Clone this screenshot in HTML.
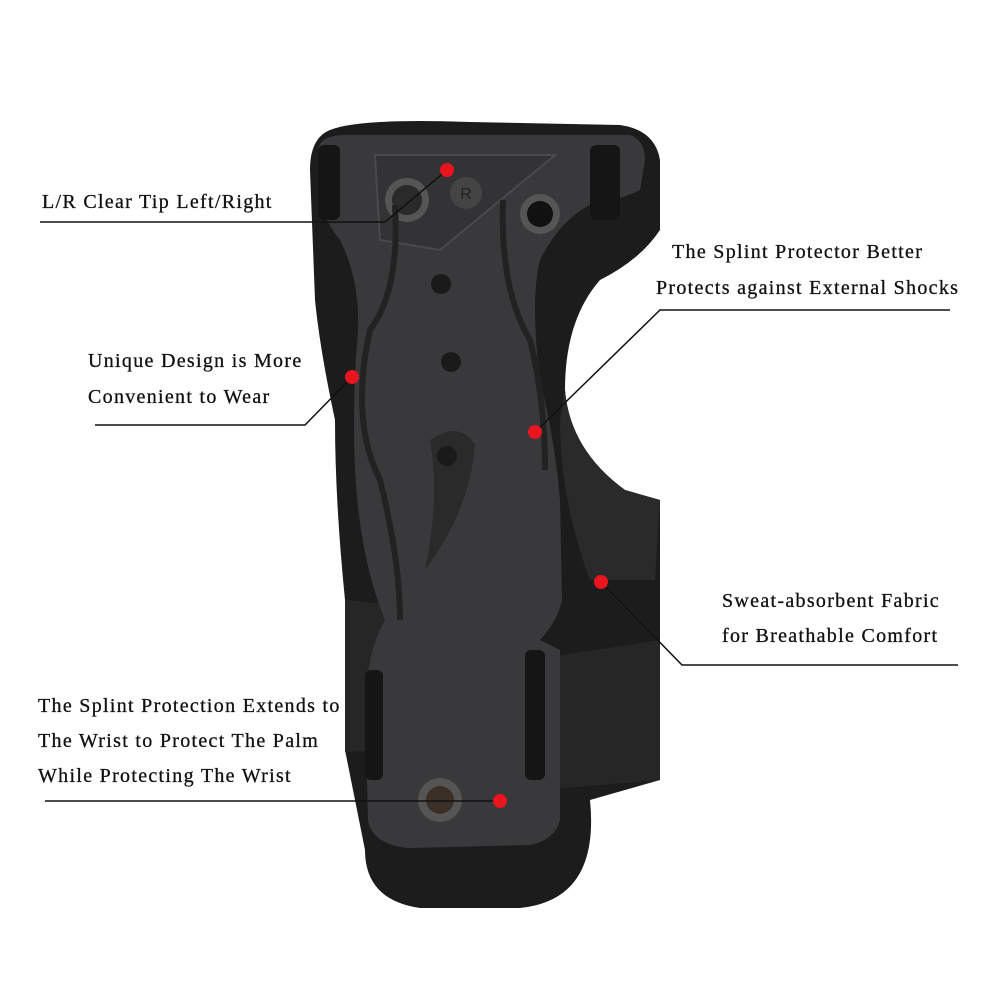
<!DOCTYPE html>
<html><head><style>
body{margin:0;background:#fff;width:1000px;height:1000px;overflow:hidden;position:relative;font-family:"Liberation Serif",serif;}
.t{position:absolute;font-size:20px;color:#111;letter-spacing:1.3px;white-space:nowrap;-webkit-text-stroke:0.3px #111;}
svg{position:absolute;left:0;top:0}
</style></head><body>
<svg width="1000" height="1000" viewBox="0 0 1000 1000">
<path d="M330 130 Q360 118 470 122 L620 125 Q655 130 660 160 L660 230 Q640 260 600 280 Q565 320 565 390 Q570 450 625 490 L660 500 L660 560 L660 780 L590 800 Q600 900 520 908 L420 908 Q365 900 365 850 L345 750 L345 600 Q335 500 335 420 Q320 350 315 300 L310 170 Q310 138 330 130Z" fill="#1c1c1d"/>
<path d="M565 390 Q570 450 625 490 L660 500 L655 580 L590 580 Q560 500 560 420Z" fill="#2a2a2b"/>
<path d="M530 660 L660 640 L660 780 L540 790Z" fill="#262627"/>
<path d="M345 600 L395 605 L395 750 L345 752Z" fill="#262627"/>
<path d="M318 150 Q320 135 345 135 L630 135 Q645 140 645 160 L640 190 Q620 200 590 205 Q560 220 540 260 Q530 300 540 380 Q555 440 560 500 L562 600 Q558 620 540 640 L560 650 L560 820 Q555 840 530 845 L410 848 Q372 845 368 820 L365 700 Q368 650 385 620 Q360 560 355 470 Q352 400 358 330 Q360 280 340 240 Q320 215 318 190Z" fill="#39393b"/>
<path d="M375 155 L555 155 L440 250 L380 240Z" fill="#333335" stroke="#4a4a4c" stroke-width="2"/>
<circle cx="407" cy="200" r="22" fill="#555"/><circle cx="407" cy="200" r="15" fill="#2a2a2a"/>
<circle cx="466" cy="193" r="16" fill="#444"/><text x="466" y="199" font-size="16" fill="#222" text-anchor="middle" font-family="Liberation Sans">R</text>
<circle cx="540" cy="214" r="20" fill="#555"/><circle cx="540" cy="214" r="13" fill="#111"/>
<circle cx="441" cy="284" r="10" fill="#1a1a1a"/>
<circle cx="451" cy="362" r="10" fill="#1a1a1a"/>
<path d="M430 440 Q460 420 475 445 Q470 510 425 570 Q440 500 430 440Z" fill="#2a2a2b"/>
<circle cx="447" cy="456" r="10" fill="#1a1a1a"/>
<path d="M395 205 Q400 290 370 330 Q350 420 380 480 Q400 560 400 620" stroke="#222" stroke-width="6" fill="none"/>
<path d="M503 200 Q500 290 530 340 Q545 400 545 470" stroke="#222" stroke-width="6" fill="none"/>
<rect x="318" y="145" width="22" height="75" rx="6" fill="#151515"/>
<rect x="590" y="145" width="30" height="75" rx="6" fill="#151515"/>
<rect x="365" y="670" width="18" height="110" rx="6" fill="#151515"/>
<rect x="525" y="650" width="20" height="130" rx="6" fill="#151515"/>
<circle cx="440" cy="800" r="22" fill="#555"/><circle cx="440" cy="800" r="14" fill="#3a3028"/>
<g stroke="#111" stroke-width="1.5" fill="none">
<path d="M40 222 L385 222 L447 170"/>
<path d="M950 310 L660 310 L535 432"/>
<path d="M95 425 L305 425 L352 377"/>
<path d="M958 665 L682 665 L601 582"/>
<path d="M45 801 L500 801"/>
</g>
<g fill="#e8141e">
<circle cx="447" cy="170" r="7"/><circle cx="535" cy="432" r="7"/><circle cx="352" cy="377" r="7"/><circle cx="601" cy="582" r="7"/><circle cx="500" cy="801" r="7"/>
</g>
</svg>
<div class="t" style="left:42px;top:191px">L/R Clear Tip Left/Right</div>
<div class="t" style="left:672px;top:241px">The Splint Protector Better</div>
<div class="t" style="left:656px;top:277px">Protects against External Shocks</div>
<div class="t" style="left:88px;top:350px">Unique Design is More</div>
<div class="t" style="left:88px;top:386px">Convenient to Wear</div>
<div class="t" style="left:722px;top:590px">Sweat-absorbent Fabric</div>
<div class="t" style="left:722px;top:625px">for Breathable Comfort</div>
<div class="t" style="left:38px;top:695px">The Splint Protection Extends to</div>
<div class="t" style="left:38px;top:730px">The Wrist to Protect The Palm</div>
<div class="t" style="left:38px;top:765px">While Protecting The Wrist</div>
</body></html>
